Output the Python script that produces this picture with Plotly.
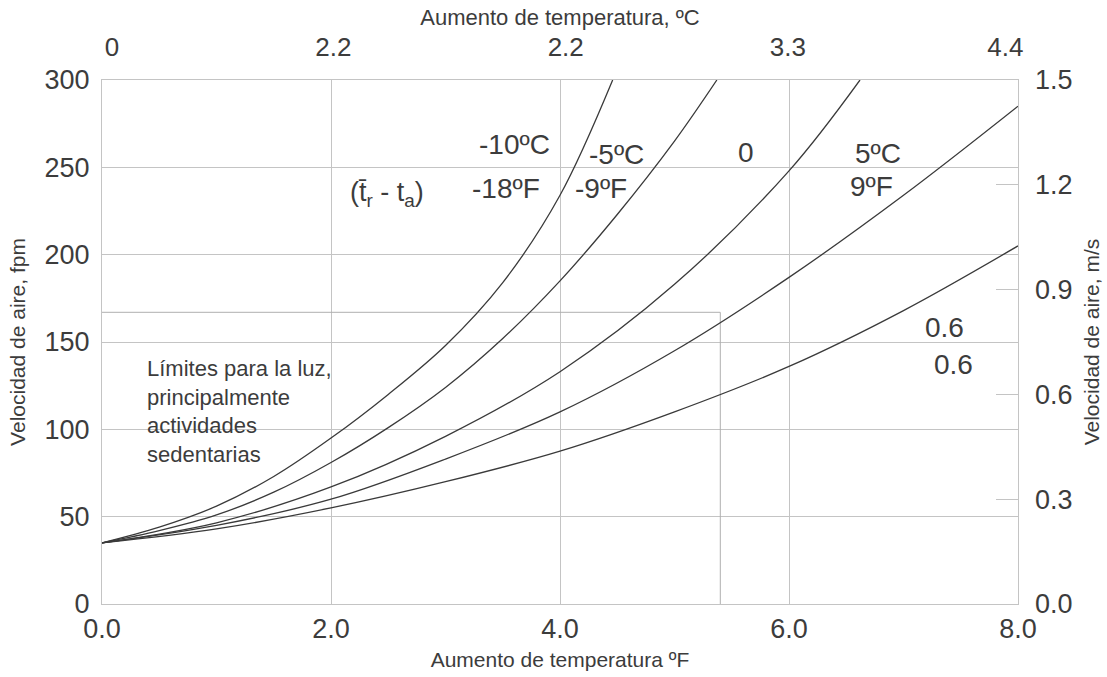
import plotly.graph_objects as go

# ---- data ----
xA = [0, 0.5, 1, 1.5, 2, 2.5, 3, 3.5, 4, 4.46]
yA = [35, 44, 56, 73, 95, 120, 148, 184, 234, 300]
xB = [0, 0.5, 1, 1.5, 2, 2.5, 3, 3.5, 4, 4.5, 5, 5.37]
yB = [35, 42, 51, 64, 81, 101, 124, 152, 185, 223, 265, 300]
xC = [0, 1, 2, 3, 4, 5, 6, 6.62]
yC = [35, 46.5, 67, 96, 133, 183, 248, 300]
xD = [0, 1, 2, 3, 4, 5, 6, 7, 8]
yD = [35, 45, 60, 83, 110, 145, 187, 234, 285]
xE = [0, 1, 2, 3, 4, 5, 6, 7, 8]
yE = [35, 43, 55, 70, 87.5, 110, 136, 168, 205]

limit_x = 5.4
limit_y = 167
FPM_PER_MS = 200  # right axis 0-1.5 m/s aligned with 0-300 fpm

bottom_ticks = [0, 2, 4, 6, 8]
top_tickpos = [0.087, 2.02, 4.05, 5.99, 7.89]
top_ticktext = ["0", "2.2", "2.2", "3.3", "4.4"]
left_ticks = [0, 50, 100, 150, 200, 250, 300]
right_ticks = [0.0, 0.3, 0.6, 0.9, 1.2, 1.5]

TXT = "#3c3c3c"
GRID = "#c4c4c4"
LINE = "#3a3a3a"
FONT = "Liberation Sans, Arial, sans-serif"

fig = go.Figure()

# limits box
fig.add_trace(go.Scatter(x=[0, limit_x, limit_x], y=[limit_y, limit_y, 0], mode="lines",
                         line=dict(color="#b0b0b0", width=1), hoverinfo="skip", showlegend=False))

for xs, ys in [(xA, yA), (xB, yB), (xC, yC), (xD, yD), (xE, yE)]:
    fig.add_trace(go.Scatter(x=xs, y=ys, mode="lines",
                             line=dict(color=LINE, width=1.3, shape="spline", smoothing=1.0),
                             showlegend=False, hoverinfo="skip"))

# invisible trace so the secondary (top / right) axes are drawn
fig.add_trace(go.Scatter(x=xE, y=[v / FPM_PER_MS for v in yE], xaxis="x2", yaxis="y2",
                         mode="lines", line=dict(width=0), opacity=0, hoverinfo="skip", showlegend=False))


def px2x(p):
    return (p - 102) / 114.5


def px2y(p):
    return (604 - p) / 1.747


def A(text, px, py, size=28, xanchor="center", align="center"):
    fig.add_annotation(x=px2x(px), y=px2y(py), xref="x", yref="y", text=text, showarrow=False,
                       font=dict(family=FONT, size=size, color=TXT), xanchor=xanchor, align=align)


A("-10ºC", 514, 144)
A("-18ºF", 506, 188)
A("(t\u0304<sub>r</sub> - t<sub>a</sub>)", 387, 194, size=27)
A("-5ºC", 616, 154)
A("-9ºF", 601, 188)
A("0", 746, 152)
A("5ºC", 878, 153)
A("9ºF", 871, 186)
A("0.6", 944, 327)
A("0.6", 953, 364)
A("Límites para la luz,<br>principalmente<br>actividades<br>sedentarias", 145, 411,
  size=22, xanchor="left", align="left")

fig.update_layout(
    width=1107, height=677,
    margin=dict(l=102, r=89, t=80, b=73),
    paper_bgcolor="white", plot_bgcolor="white",
    font=dict(family=FONT, color=TXT),
    xaxis=dict(range=[0, 8], tickvals=bottom_ticks, tickformat=".1f", automargin=False,
               showgrid=True, gridcolor=GRID, gridwidth=1, zeroline=False,
               showline=True, linecolor=GRID, mirror=True, ticks="", ticklabelstandoff=1,
               tickfont=dict(size=27, color=TXT),
               title=dict(text="Aumento de temperatura ºF", font=dict(size=21, color=TXT), standoff=8)),
    xaxis2=dict(range=[0, 8], overlaying="x", side="top", tickvals=top_tickpos, ticktext=top_ticktext,
                automargin=False, showgrid=False, zeroline=False, ticks="", ticklabelstandoff=18,
                tickfont=dict(size=26, color=TXT),
                title=dict(text="Aumento de temperatura, ºC", font=dict(size=22, color=TXT),
                           standoff=0)),
    yaxis=dict(range=[0, 300], tickvals=left_ticks, showgrid=True, gridcolor=GRID, gridwidth=1,
               automargin=False, zeroline=False, showline=True, linecolor=GRID, mirror=True, ticks="",
               ticklabelstandoff=6, tickfont=dict(size=27, color=TXT),
               title=dict(text="Velocidad de aire, fpm", font=dict(size=21, color=TXT), standoff=13)),
    yaxis2=dict(range=[0, 1.5], overlaying="y", side="right", tickvals=right_ticks, tickformat=".1f",
                automargin=False, showgrid=False, zeroline=False, ticks="inside", ticklen=22,
                tickcolor=GRID, tickwidth=1,
                ticklabelstandoff=16, tickfont=dict(size=27, color=TXT),
                title=dict(text="Velocidad de aire, m/s", font=dict(size=21, color=TXT), standoff=12)),
)

fig.write_html("out.html")
